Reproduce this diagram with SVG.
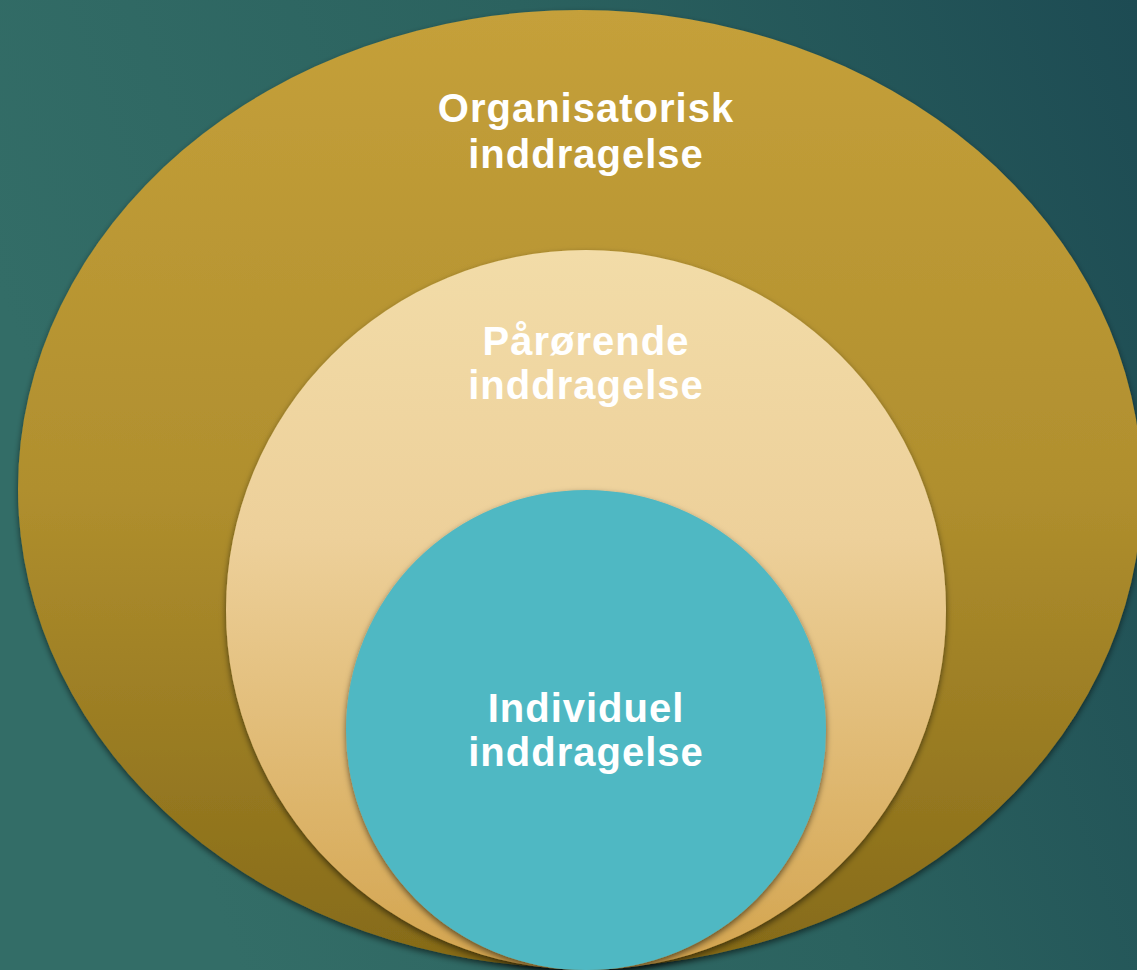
<svg xmlns="http://www.w3.org/2000/svg" width="1137" height="970" viewBox="0 0 1137 970">
<defs>
<linearGradient id="bg" x1="0" y1="0.3" x2="1" y2="0">
<stop offset="0" stop-color="#336D67"/>
<stop offset="0.5" stop-color="#2B625F"/>
<stop offset="1" stop-color="#1D4B53"/>
</linearGradient>
<linearGradient id="gOuter" x1="0" y1="0" x2="0" y2="1">
<stop offset="0" stop-color="#C5A03A"/>
<stop offset="0.5" stop-color="#B08F2E"/>
<stop offset="1" stop-color="#856A18"/>
</linearGradient>
<linearGradient id="gMid" x1="0" y1="0" x2="0" y2="1">
<stop offset="0" stop-color="#F2DCA8"/>
<stop offset="0.4" stop-color="#EDD09A"/>
<stop offset="1" stop-color="#D3A44E"/>
</linearGradient>
<filter id="shadow" x="-10%" y="-10%" width="120%" height="125%">
<feDropShadow dx="0" dy="3" stdDeviation="3" flood-color="#000" flood-opacity="0.55"/>
</filter>
<style>
.lbl { font-family: "Liberation Sans", Arial, sans-serif; font-weight: bold; font-size: 40px; letter-spacing: 1px; fill: #FFFFFF; text-anchor: middle; }
</style>
</defs>
<rect x="0" y="0" width="1137" height="970" fill="url(#bg)"/>
<g id="organisatorisk">
<ellipse cx="580" cy="489" rx="562" ry="479" fill="url(#gOuter)" filter="url(#shadow)"/>
<text class="lbl" x="586" y="122">Organisatorisk</text>
<text class="lbl" x="586" y="168">inddragelse</text>
</g>
<g id="paaroerende">
<circle cx="586" cy="610" r="360" fill="url(#gMid)" filter="url(#shadow)"/>
<text class="lbl" x="586" y="355">Pårørende</text>
<text class="lbl" x="586" y="399">inddragelse</text>
</g>
<g id="individuel">
<circle cx="586" cy="730" r="240" fill="#50B8C3" filter="url(#shadow)"/>
<text class="lbl" x="586" y="722">Individuel</text>
<text class="lbl" x="586" y="766">inddragelse</text>
</g>
<g id="connectors"/>
</svg>
